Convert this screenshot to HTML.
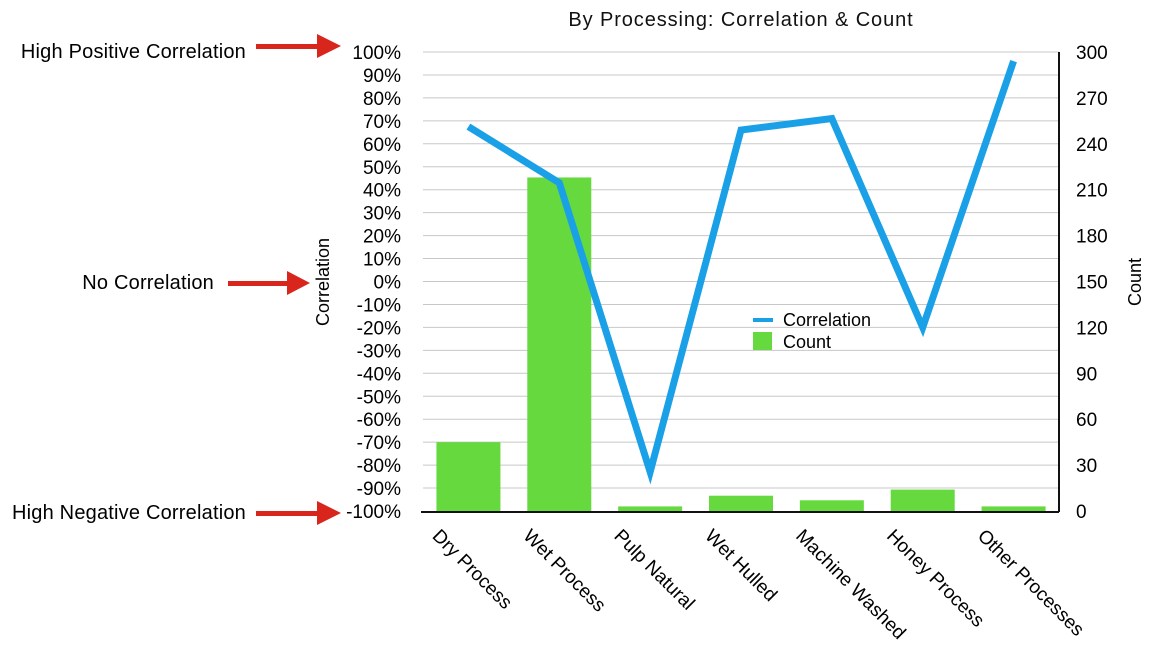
<!DOCTYPE html>
<html><head><meta charset="utf-8"><style>
body{margin:0;background:#fff;}
svg{display:block;font-family:"Liberation Sans",sans-serif;}
</style></head><body>
<svg id="c" width="1160" height="664" viewBox="0 0 1160 664">
<text x="741" y="26" font-size="20" letter-spacing="0.9" text-anchor="middle" fill="#111">By Processing: Correlation &amp; Count</text>
<g id="grid"></g><g id="bars"></g><g id="line"></g><g id="axes"></g>
<text transform="translate(329,282) rotate(-90)" font-size="18" text-anchor="middle">Correlation</text>
<text transform="translate(1141,282) rotate(-90)" font-size="18" text-anchor="middle">Count</text>
<g>
<rect x="753" y="318" width="20" height="4" fill="#1aa0e6"/>
<text x="783" y="326" font-size="18">Correlation</text>
<rect x="753" y="332" width="19" height="18" fill="#66d93f"/>
<text x="783" y="348" font-size="18">Count</text>
</g>
<g font-size="20" letter-spacing="0.2">
<text x="246" y="58" text-anchor="end">High Positive Correlation</text>
<rect x="256" y="44" width="64" height="5" fill="#d9261c"/><polygon points="317,34 341,46 317,58" fill="#d9261c"/>
<text x="214" y="289" text-anchor="end">No Correlation</text>
<rect x="228" y="281" width="62" height="5" fill="#d9261c"/><polygon points="287,271 310,283 287,295" fill="#d9261c"/>
<text x="246" y="519" text-anchor="end">High Negative Correlation</text>
<rect x="256" y="511" width="64" height="5" fill="#d9261c"/><polygon points="317,501 341,513 317,525" fill="#d9261c"/>
</g>
</svg>
<script>
const categories=["Dry Process","Wet Process","Pulp Natural","Wet Hulled","Machine Washed","Honey Process","Other Processes"];
const correlation=[0.675,0.43,-0.83,0.66,0.71,-0.20,0.96];
const counts=[45,218,3,10,7,14,3];
const leftTicks=[1,0.9,0.8,0.7,0.6,0.5,0.4,0.3,0.2,0.1,0,-0.1,-0.2,-0.3,-0.4,-0.5,-0.6,-0.7,-0.8,-0.9,-1];
const rightTicks=[0,30,60,90,120,150,180,210,240,270,300];
const NS="http://www.w3.org/2000/svg";
const X0=423,X1=1059,YT=52,YB=511;
const bw=(X1-X0)/categories.length;
const xc=i=>X0+bw*(i+0.5);
const yL=v=>YB-(v+1)/2*(YB-YT);
const yR=v=>YB-v/300*(YB-YT);
function mk(t,a,p){const e=document.createElementNS(NS,t);for(const k in a)e.setAttribute(k,a[k]);p.appendChild(e);return e;}
const grid=document.getElementById('grid'),axes=document.getElementById('axes');
leftTicks.forEach(v=>{
 if(v>-1){const l=mk('line',{x1:X0,x2:X1,y1:yL(v),y2:yL(v),stroke:'#c8c8c8','stroke-width':1},grid);
 
 }
 const t=mk('text',{x:401,y:yL(v)+7,'font-size':19,'text-anchor':'end'},axes);
 t.textContent=Math.round(v*100)+'%';
 
 
});
rightTicks.forEach(v=>{
 const t=mk('text',{x:1076,y:yR(v)+7,'font-size':19},axes);
 t.textContent=v;
 
 
});
const bars=document.getElementById('bars');
counts.forEach((v,i)=>{
 const r=mk('rect',{x:xc(i)-32,y:yR(v),width:64,height:YB-yR(v),fill:'#66d93f'},bars);
 
 
});
const pl=mk('polyline',{points:correlation.map((v,i)=>xc(i)+','+yL(v)).join(' '),fill:'none',stroke:'#1aa0e6','stroke-width':7,'stroke-linejoin':'miter'},document.getElementById('line'));


const ax=mk('line',{x1:X0-2,x2:X1,y1:YB+1,y2:YB+1,stroke:'#111','stroke-width':2},axes);


const ra=mk('line',{x1:X1,x2:X1,y1:YT,y2:YB+1,stroke:'#111','stroke-width':2},axes);


categories.forEach((c,i)=>{
 const x=xc(i)-37,y=537;
 const t=mk('text',{x:x,y:y,'font-size':19,transform:`rotate(45 ${x} ${y})`},axes);
 t.textContent=c;
 
 
});
</script>
</body></html>
